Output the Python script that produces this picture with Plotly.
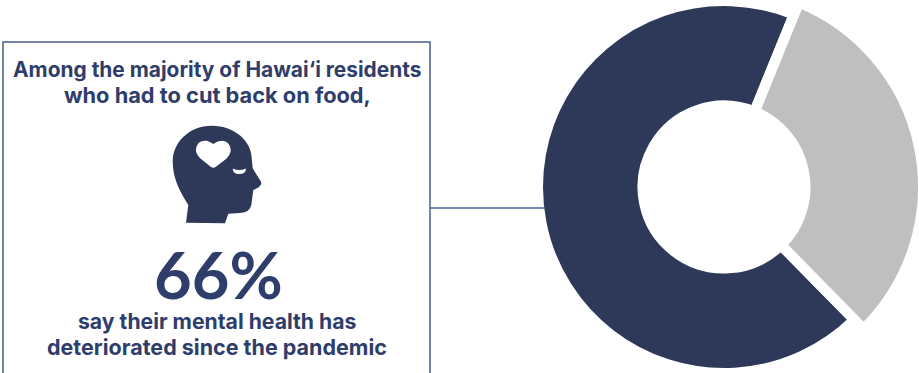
import plotly.graph_objects as go

categories = ["Mental health deteriorated", "Other"]
values = [68.5, 31.5]
colors = ["#2E3859", "#BFBFBF"]
TEXT = "#2F3D6B"
LINE = "#4A5F8F"
FONT = "Inter"
CLEAR = "rgba(0,0,0,0)"

# The canvas is a little larger than the window so the wider grey ring fits its domain.
PAD_TOP = 13
W, H = 930, 400
CX, CY = 724, 187
GAP = 10.5


def domain(r):
    cy = CY + PAD_TOP
    return dict(x=[(CX - r) / W, (CX + r) / W], y=[1 - (cy + r) / H, 1 - (cy - r) / H])


def ring(outer, inner, slice_colors, widths):
    r = outer + GAP / 2
    r_in = inner - GAP / 2
    return go.Pie(
        labels=categories, values=values, hole=r_in / r, sort=False, direction="counterclockwise",
        rotation=135.5, textinfo="none", hoverinfo="label", showlegend=False,
        marker=dict(colors=slice_colors, line=dict(color="white", width=widths)),
        domain=domain(r),
    )


fig = go.Figure()
fig.add_trace(ring(181, 86.5, [colors[0], CLEAR], [GAP, 0]))
fig.add_trace(ring(194, 86.5, [CLEAR, colors[1]], [0, GAP]))

head = ("M186,222.7 L188.3,205 C180,191.7 172.7,178.3 172.7,161.7 C172.7,141.7 190,125.7 211.7,125.7 "
        "C235,125.7 251.7,141.7 251.7,158.3 L252.7,168.3 L261,181.7 Q262,185 258.7,187.3 L253.3,190 "
        "L251.3,205 Q250,212.3 240,213 L228.3,213.7 L225,223.3 Z")
heart = ("M213.3,144 C209,141 207,140.7 205,140.7 C199,140.7 196,145 196,150 C196,154 199,157 201,159 "
         "L211,167 Q213.3,168.5 215.6,167 L226,159 C228,157 230.7,154 230.7,150 C230.7,145 227,140.7 222,140.7 "
         "C219,140.7 217,141.5 213.3,144 Z")
eye = "M232.7,168.5 Q239,171.5 246,168.5 Q246,174 239,174 Q233,174 232.7,168.5 Z"

shapes = [
    dict(type="path", path="M3,380 L3,42 L430,42 L430,380", line=dict(color=LINE, width=1.5)),
    dict(type="line", x0=430, x1=545, y0=208, y1=208, line=dict(color=LINE, width=1.5)),
    dict(type="path", path=head, fillcolor=colors[0], line=dict(width=0)),
    dict(type="path", path=heart, fillcolor="white", line=dict(width=0)),
    dict(type="path", path=eye, fillcolor="white", line=dict(width=0)),
]

texts = [
    ("<b>Among the majority of Hawai‘i residents</b>", 217, 69.5, 20.9, FONT),
    ("<b>who had to cut back on food,</b>", 217, 94.5, 21.8, FONT),
    ("<b>66%</b>", 218, 274, 65, "Lato"),
    ("<b>say their mental health has</b>", 217, 320.5, 21.2, FONT),
    ("<b>deteriorated since the pandemic</b>", 217, 346.5, 21.5, FONT),
]
annotations = [dict(text=t, x=x, y=y, xref="x", yref="y", showarrow=False,
                    xanchor="center", yanchor="middle",
                    font=dict(family=f, size=s, color=TEXT)) for t, x, y, s, f in texts]

fig.update_layout(
    width=W, height=H, margin=dict(l=0, r=0, t=0, b=0),
    paper_bgcolor="white", plot_bgcolor=CLEAR, showlegend=False,
    xaxis=dict(range=[0, W], visible=False, domain=[0, 1], fixedrange=True),
    yaxis=dict(range=[H - PAD_TOP, -PAD_TOP], visible=False, domain=[0, 1], fixedrange=True),
    shapes=shapes, annotations=annotations,
)
fig.write_html("out.html", config={"displayModeBar": False},
               post_script=f"document.body.style.margin='-{PAD_TOP}px 0 0 0';"
                           "document.documentElement.style.overflow='hidden';"
                           "document.body.style.overflow='hidden';document.body.style.height='400px';")
